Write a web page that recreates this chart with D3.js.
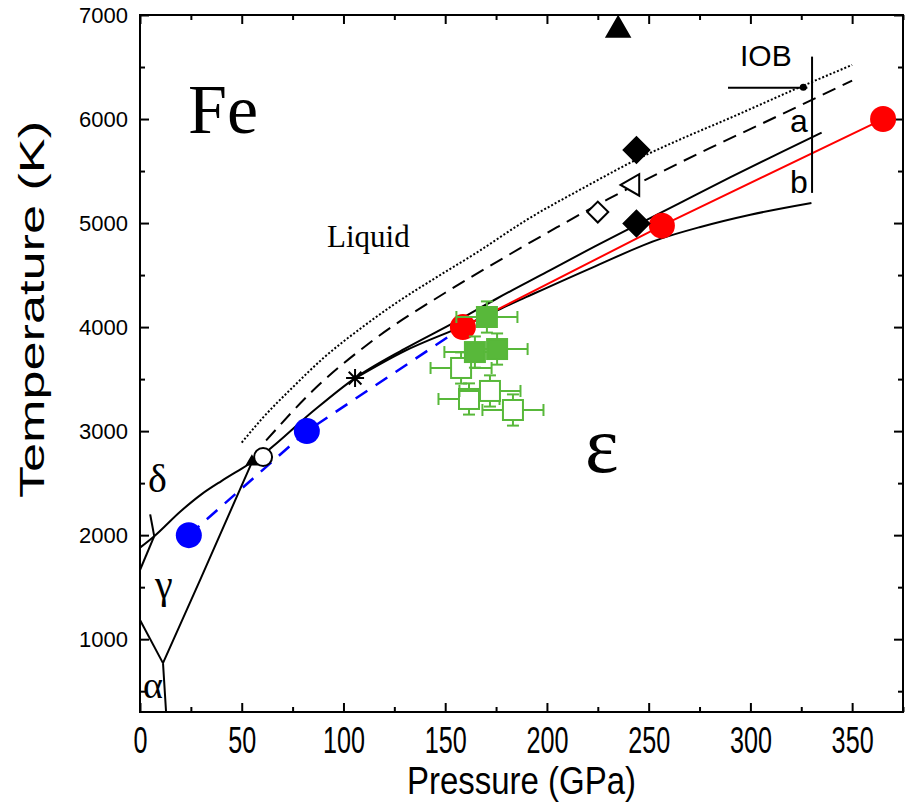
<!DOCTYPE html>
<html>
<head>
<meta charset="utf-8">
<script src="https://cdn.jsdelivr.net/npm/d3@7"></script>
<style>
  body { margin: 0; background: #fff; }
  svg text { font-family: "Liberation Sans", Arial, sans-serif; }
  .serif { font-family: "Liberation Serif", "Times New Roman", serif; }
</style>
</head>
<body>
<div id="chart"></div>
<script>
// Data (pressure GPa, temperature K)
const xTicks = [0, 50, 100, 150, 200, 250, 300, 350];
const xMinor = [25, 75, 125, 175, 225, 275, 325, 375];
const yTicks = [1000, 2000, 3000, 4000, 5000, 6000, 7000];
const yMinor = [500, 1500, 2500, 3500, 4500, 5500, 6500];

const dottedCurve = [[50, 2890], [60, 3120], [75, 3420], [90, 3700], [110, 4010], [125, 4220], [145, 4470], [165, 4710], [190, 5030], [220, 5360], [245, 5620], [265, 5800], [290, 6010], [320, 6270], [350, 6520]];
const dashedCurve = [[62, 2910], [85, 3390], [115, 3880], [150, 4330], [180, 4680], [205, 4960], [230, 5230], [255, 5480], [280, 5720], [305, 5950], [350, 6370]];
const curveA = [[55, 2700], [62, 2800], [85, 3190], [105, 3500], [130, 3790], [155, 4050], [175, 4270], [200, 4530], [225, 4790], [245, 4990], [265, 5190], [290, 5440], [315, 5680], [335, 5870]];
const curveB = [[105, 3500], [130, 3770], [158.7, 4010], [190, 4290], [222, 4570], [256, 4850], [275, 4960], [300, 5080], [330, 5193]];

const meltLow = [[0, 1880], [7, 1990], [20, 2230], [30, 2390], [40, 2520], [50, 2640], [55, 2700]];
const deltaGamma = [[0, 1665], [7, 1990]];
const deltaTick = [[5, 2200], [7, 1990]];
const alphaGamma = [[0, 1185], [11.3, 770]];
const alphaEps = [[11.3, 770], [12.8, 300]];
const gammaEps = [[11.3, 770], [30, 1590], [55, 2700]];

const bluePts = [[24, 2000], [82, 3000]];
const blueLine = [[24, 2000], [82, 3000], [158.7, 4000]];
const redPts = [[158.7, 4000], [256.5, 4975], [365.2, 6000]];

const greenFilled = [[170.5, 4097], [164.6, 3760], [175.5, 3789]];
const greenOpen = [[157.8, 3607], [161.7, 3309], [172, 3386], [183.3, 3203]];
const greenErrP = 15;
const greenErrT = 150;

const blackDiamonds = [[244, 5702], [244, 4995]];
const openDiamonds = [[225, 5106]];
const openTriangles = [[242.3, 5366]];
const blackTriangles = [[235, 6856]];
const asterisks = [[105.7, 3510]];
const openHexagons = [[60.5, 2751]];
const triplePoints = [[55, 2705]];

const iobBar = [[289, 6300], [328, 6300]];
const iobDot = [[326, 6305]];
const iobVertical = [[330.3, 5290], [330.3, 6600]];

const serifLabels = [
  { text: "Fe", p: 23.6, t: 5866, size: 70 },
  { text: "Liquid", p: 91.9, t: 4770, size: 31 },
  { text: "ε", p: 218.7, t: 2607, size: 80 },
  { text: "δ", p: 3.9, t: 2415, size: 40 },
  { text: "γ", p: 7.4, t: 1396, size: 40 },
  { text: "α", p: 1.5, t: 435, size: 38 },
];
const sansLabels = [
  { text: "IOB", p: 294.9, t: 6509, size: 30 },
  { text: "a", p: 319.5, t: 5875, size: 32 },
  { text: "b", p: 319.5, t: 5289, size: 32 },
];

const w = 913;
const h = 807;
const svg = d3
  .select("#chart")
  .append("svg")
  .attr("width", w)
  .attr("height", h);

const x = d3.scaleLinear().domain([0, 375]).range([140, 903]);
const y = d3.scaleLinear().domain([300, 7000]).range([712, 15]);

// Axes, ticks pointing inward on all four sides
const gx = svg
  .append("g")
  .attr("transform", `translate(0,${y(300)})`)
  .call(d3.axisBottom(x).tickValues(xTicks).tickSize(-9).tickSizeOuter(0).tickPadding(12).tickFormat(d3.format("d")));
gx.selectAll("text")
  .attr("font-size", 28)
  .attr("fill", "#000")
  .attr("transform", "scale(0.9,1.3)");
gx.append("g")
  .call(d3.axisBottom(x).tickValues(xMinor).tickSize(-5).tickSizeOuter(0).tickFormat(""));

const gxTop = svg
  .append("g")
  .attr("transform", `translate(0,${y(7000)})`)
  .call(d3.axisTop(x).tickValues(xTicks).tickSize(-9).tickSizeOuter(0).tickFormat(""));
gxTop.append("g")
  .call(d3.axisTop(x).tickValues(xMinor).tickSize(-5).tickSizeOuter(0).tickFormat(""));

const gy = svg
  .append("g")
  .attr("transform", `translate(${x(0)},0)`)
  .call(d3.axisLeft(y).tickValues(yTicks).tickSize(-9).tickSizeOuter(0).tickPadding(12).tickFormat(d3.format("d")));
gy.selectAll("text").attr("font-size", 22).attr("fill", "#000");
gy.append("g")
  .call(d3.axisLeft(y).tickValues(yMinor).tickSize(-5).tickSizeOuter(0).tickFormat(""));

const gyRight = svg
  .append("g")
  .attr("transform", `translate(${x(375)},0)`)
  .call(d3.axisRight(y).tickValues(yTicks).tickSize(-9).tickSizeOuter(0).tickFormat(""));
gyRight.append("g")
  .call(d3.axisRight(y).tickValues(yMinor).tickSize(-5).tickSizeOuter(0).tickFormat(""));

svg.selectAll(".domain").remove();
svg.selectAll(".tick line").attr("stroke", "#000").attr("stroke-width", 2);

svg
  .append("rect")
  .attr("x", x(0))
  .attr("y", y(7000))
  .attr("width", x(375) - x(0))
  .attr("height", y(300) - y(7000))
  .attr("fill", "none")
  .attr("stroke", "#000")
  .attr("stroke-width", 2);

// Axis titles
svg
  .append("text")
  .attr("transform", `translate(${(x(0) + x(375)) / 2},794) scale(1,1.2)`)
  .attr("text-anchor", "middle")
  .attr("font-size", 33)
  .text("Pressure (GPa)");

svg
  .append("text")
  .attr("transform", `translate(44,${(y(300) + y(7000)) / 2 - 54}) rotate(-90) scale(1.45,1)`)
  .attr("text-anchor", "middle")
  .attr("font-size", 36)
  .text("Temperature (K)");

// Phase boundaries
const line = d3
  .line()
  .x((d) => x(d[0]))
  .y((d) => y(d[1]))
  .curve(d3.curveMonotoneX);
const straight = d3
  .line()
  .x((d) => x(d[0]))
  .y((d) => y(d[1]));

const plot = svg.append("g");

function drawLine(data, gen, color, width, dash) {
  plot
    .append("path")
    .datum(data)
    .attr("d", gen)
    .attr("fill", "none")
    .attr("stroke", color)
    .attr("stroke-width", width)
    .attr("stroke-dasharray", dash || null);
}

[meltLow, deltaGamma, deltaTick, alphaGamma, alphaEps, gammaEps].forEach((d) =>
  drawLine(d, line, "#000", 2)
);
drawLine(dottedCurve, line, "#000", 2, "2,2");
drawLine(dashedCurve, line, "#000", 2, "14,8");
drawLine(curveA, line, "#000", 2);
drawLine(curveB, line, "#000", 2);
drawLine(blueLine, straight, "#0000ff", 2.5, "14,10");
drawLine(redPts, straight, "#ff0000", 2);
drawLine(iobBar, straight, "#000", 2);
drawLine(iobVertical, straight, "#000", 2);

// Circles
plot
  .selectAll(".blue")
  .data(bluePts)
  .join("circle")
  .attr("cx", (d) => x(d[0]))
  .attr("cy", (d) => y(d[1]))
  .attr("r", 13)
  .attr("fill", "#0000ff");

plot
  .selectAll(".red")
  .data(redPts)
  .join("circle")
  .attr("cx", (d) => x(d[0]))
  .attr("cy", (d) => y(d[1]))
  .attr("r", 13)
  .attr("fill", "#ff0000");

// Green points with error bars
const green = "#58b83a";
function greenPoint(data, fill) {
  const g = plot.append("g").selectAll("g").data(data).join("g");
  g.append("line")
    .attr("x1", (d) => x(d[0] - greenErrP))
    .attr("x2", (d) => x(d[0] + greenErrP))
    .attr("y1", (d) => y(d[1]))
    .attr("y2", (d) => y(d[1]));
  g.append("line")
    .attr("x1", (d) => x(d[0]))
    .attr("x2", (d) => x(d[0]))
    .attr("y1", (d) => y(d[1] - greenErrT))
    .attr("y2", (d) => y(d[1] + greenErrT));
  [-greenErrP, greenErrP].forEach((e) =>
    g.append("line")
      .attr("x1", (d) => x(d[0] + e))
      .attr("x2", (d) => x(d[0] + e))
      .attr("y1", (d) => y(d[1]) - 6)
      .attr("y2", (d) => y(d[1]) + 6)
  );
  [-greenErrT, greenErrT].forEach((e) =>
    g.append("line")
      .attr("x1", (d) => x(d[0]) - 6)
      .attr("x2", (d) => x(d[0]) + 6)
      .attr("y1", (d) => y(d[1] + e))
      .attr("y2", (d) => y(d[1] + e))
  );
  g.append("rect")
    .attr("x", (d) => x(d[0]) - 10)
    .attr("y", (d) => y(d[1]) - 10)
    .attr("width", 20)
    .attr("height", 20)
    .attr("fill", fill);
  g.selectAll("line, rect").attr("stroke", green).attr("stroke-width", 2);
}
greenPoint(greenOpen, "#fff");
greenPoint(greenFilled, green);

// Other symbols
function symbols(data, type, size, fill, rotate) {
  plot
    .append("g")
    .selectAll("path")
    .data(data)
    .join("path")
    .attr("transform", (d) => `translate(${x(d[0])},${y(d[1])}) rotate(${rotate || 0})`)
    .attr("d", d3.symbol(type, size))
    .attr("fill", fill)
    .attr("stroke", "#000")
    .attr("stroke-width", 2);
}
symbols(blackDiamonds, d3.symbolSquare, 330, "#000", 45);
symbols(openDiamonds, d3.symbolSquare, 220, "#fff", 45);
symbols(openTriangles, d3.symbolTriangle, 200, "#fff", -90);
symbols(blackTriangles, d3.symbolTriangle, 230, "#000", 0);
symbols(triplePoints, d3.symbolTriangle, 40, "#000", 0);

plot
  .selectAll(".hex")
  .data(openHexagons)
  .join("circle")
  .attr("cx", (d) => x(d[0]))
  .attr("cy", (d) => y(d[1]))
  .attr("r", 9)
  .attr("fill", "#fff")
  .attr("stroke", "#000")
  .attr("stroke-width", 2);

// asterisk: four crossing strokes
plot
  .selectAll(".ast")
  .data(asterisks)
  .join("path")
  .attr("d", (d) => {
    const cx = x(d[0]);
    const cy = y(d[1]);
    return d3.range(4).map((i) => {
      const a = (i * Math.PI) / 4;
      const dx = 9 * Math.cos(a);
      const dy = 9 * Math.sin(a);
      return `M${cx - dx},${cy - dy}L${cx + dx},${cy + dy}`;
    }).join("");
  })
  .attr("stroke", "#000")
  .attr("stroke-width", 2);

plot
  .selectAll(".iob")
  .data(iobDot)
  .join("circle")
  .attr("cx", (d) => x(d[0]))
  .attr("cy", (d) => y(d[1]))
  .attr("r", 3.5)
  .attr("fill", "#000");

// Labels
svg
  .append("g")
  .selectAll("text")
  .data(serifLabels)
  .join("text")
  .attr("class", "serif")
  .attr("x", (d) => x(d.p))
  .attr("y", (d) => y(d.t))
  .attr("font-size", (d) => d.size)
  .text((d) => d.text);

svg
  .append("g")
  .selectAll("text")
  .data(sansLabels)
  .join("text")
  .attr("x", (d) => x(d.p))
  .attr("y", (d) => y(d.t))
  .attr("font-size", (d) => d.size)
  .text((d) => d.text);
</script>
</body>
</html>
